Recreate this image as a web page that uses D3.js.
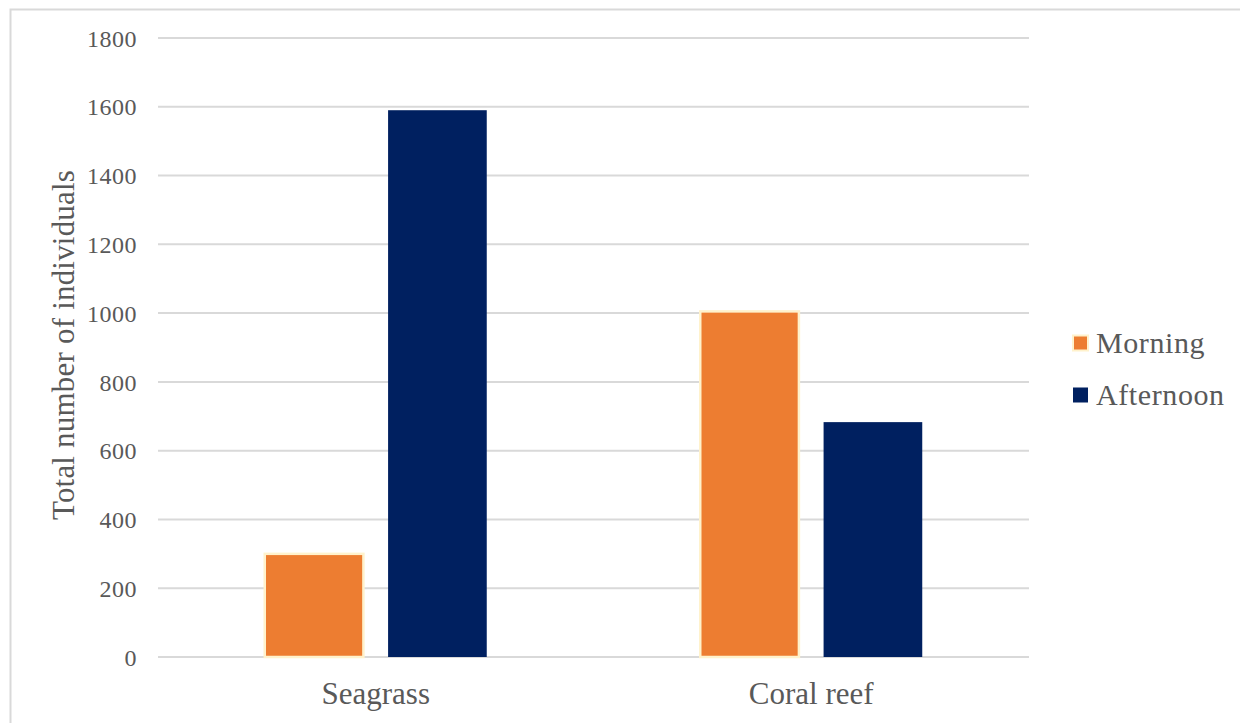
<!DOCTYPE html>
<html><head><meta charset="utf-8">
<script src="https://cdn.jsdelivr.net/npm/d3@7"></script>
<style>body{margin:0;background:#fff}svg{display:block}text{font-family:"Liberation Serif","Times New Roman",serif;fill:#595959}</style>
</head><body><div id="chart"></div>
<script>
const categories = ["Seagrass", "Coral reef"];
const seriesNames = ["Morning", "Afternoon"];
const morning = [300, 1005];
const afternoon = [1590, 683];
const yTicks = [0, 200, 400, 600, 800, 1000, 1200, 1400, 1600, 1800];
const colors = ["#ED7D31", "#002060"];

const W = 1240, H = 723;
const svg = d3.select("#chart").append("svg").attr("width", W).attr("height", H);

// outer border
svg.append("rect").attr("x", 10.5).attr("y", 9.5).attr("width", W + 10).attr("height", H + 10)
  .attr("fill", "none").attr("stroke", "#d9d9d9").attr("stroke-width", 2);

const pLeft = 158, pRight = 1029, pTop = 38, pBottom = 657;
const y = d3.scaleLinear().domain([0, 1800]).range([pBottom, pTop]);
const x0 = d3.scaleBand().domain(categories).range([pLeft, pRight]).paddingInner(0).paddingOuter(0);
const groupW = 222;
const x1 = d3.scaleBand().domain(seriesNames).range([0, groupW]).paddingInner(0.2).paddingOuter(0);

// gridlines
svg.append("g").selectAll("line").data(yTicks).join("line")
  .attr("x1", pLeft).attr("x2", pRight).attr("y1", d => y(d)).attr("y2", d => y(d))
  .attr("stroke", "#d9d9d9").attr("stroke-width", 2);

// y axis labels
const yAxis = d3.axisLeft(y).tickValues(yTicks).tickSize(0).tickPadding(0).tickFormat(d3.format("d"));
const ga = svg.append("g").attr("transform", `translate(137,0)`).call(yAxis);
ga.select(".domain").remove();
ga.selectAll("text")
  .style("font-size", "24px").style("font-family", '"Liberation Serif",serif').style("fill", "#595959")
  .style("letter-spacing", "0.5px").attr("dy", "0.34em");

// bars
const data = categories.map((c, i) => ({cat: c, vals: [morning[i], afternoon[i]]}));
const grp = svg.append("g").selectAll("g").data(data).join("g")
  .attr("transform", d => `translate(${x0(d.cat) + (x0.bandwidth() - groupW) / 2},0)`);
grp.selectAll("rect").data(d => d.vals.map((v, j) => ({s: seriesNames[j], v, j}))).join("rect")
  .attr("x", d => x1(d.s)).attr("width", x1.bandwidth())
  .attr("y", d => y(d.v)).attr("height", d => pBottom - y(d.v))
  .attr("fill", d => colors[d.j])
  .attr("stroke", d => d.j === 0 ? "#fff2cc" : "none").attr("stroke-width", 2.5);

// category labels
svg.append("g").selectAll("text").data(categories).join("text")
  .attr("x", d => x0(d) + x0.bandwidth() / 2).attr("y", 704)
  .attr("text-anchor", "middle").style("font-size", "31px").text(d => d);

// y title
svg.append("text").attr("transform", "translate(74,345) rotate(-90)")
  .attr("text-anchor", "middle").style("font-size", "31px").style("letter-spacing", "0.2px")
  .text("Total number of individuals");

// legend
const lg = svg.append("g").selectAll("g").data(seriesNames).join("g")
  .attr("transform", (d, i) => `translate(1073,${343 + i * 52})`);
lg.append("rect").attr("x", 0).attr("y", -7.5).attr("width", 15).attr("height", 15)
  .attr("fill", (d, i) => colors[i]).attr("stroke", (d, i) => i === 0 ? "#fff2cc" : "none").attr("stroke-width", 2);
lg.append("text").attr("x", 23).attr("y", 0).attr("dy", "0.34em")
  .style("font-size", "30px").style("letter-spacing", "0.6px").text(d => d);
</script></body></html>
